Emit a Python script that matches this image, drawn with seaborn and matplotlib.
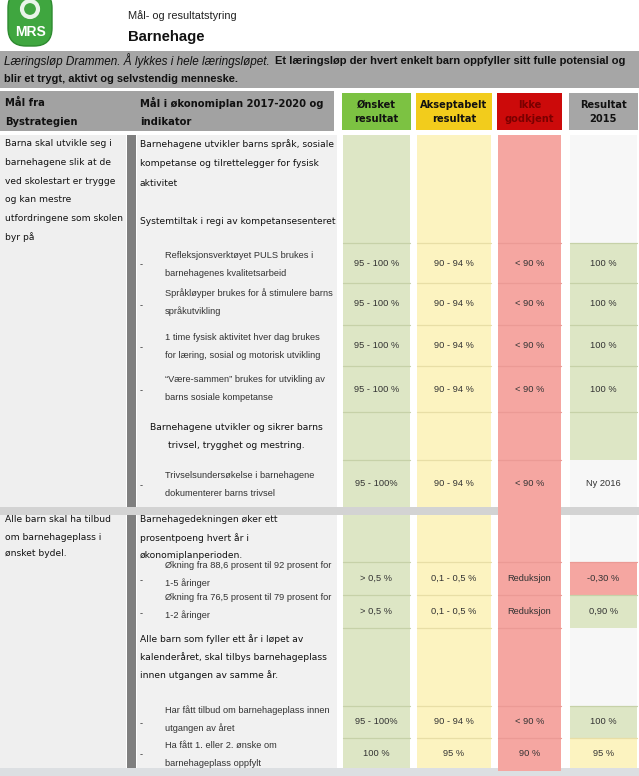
import numpy as np
import pandas as pd
import seaborn as sns
import matplotlib.pyplot as plt
from matplotlib.patches import Rectangle, FancyBboxPatch, Circle

sns.set_theme(style="white")
plt.rcParams['font.family'] = ['DejaVu Sans']

# ---- table content ----
bystrategi = [
    "Barna skal utvikle seg i\nbarnehagene slik at de\nved skolestart er trygge\nog kan mestre\nutfordringene som skolen\nbyr på",
    "Alle barn skal ha tilbud\nom barnehageplass i\nønsket bydel.",
]
indikator = [
    "Barnehagene utvikler barns språk, sosiale\nkompetanse og tilrettelegger for fysisk\naktivitet\n\nSystemtiltak i regi av kompetansesenteret",
    "Refleksjonsverktøyet PULS brukes i\nbarnehagenes kvalitetsarbeid",
    "Språkløyper brukes for å stimulere barns\nspråkutvikling",
    "1 time fysisk aktivitet hver dag brukes\nfor læring, sosial og motorisk utvikling",
    "\u201cVære-sammen\u201d brukes for utvikling av\nbarns sosiale kompetanse",
    "Barnehagene utvikler og sikrer barns\ntrivsel, trygghet og mestring.",
    "Trivselsundersøkelse i barnehagene\ndokumenterer barns trivsel",
    "Barnehagedekningen øker ett\nprosentpoeng hvert år i\nøkonomiplanperioden.",
    "Økning fra 88,6 prosent til 92 prosent for\n1-5 åringer",
    "Økning fra 76,5 prosent til 79 prosent for\n1-2 åringer",
    "Alle barn som fyller ett år i løpet av\nkalenderåret, skal tilbys barnehageplass\ninnen utgangen av samme år.",
    "Har fått tilbud om barnehageplass innen\nutgangen av året",
    "Ha fått 1. eller 2. ønske om\nbarnehageplass oppfylt",
]
row_type = ["mål", "tiltak", "tiltak", "tiltak", "tiltak", "mål", "tiltak",
            "mål", "tiltak", "tiltak", "mål", "tiltak", "tiltak"]
onsket = ["", "95 - 100 %", "95 - 100 %", "95 - 100 %", "95 - 100 %", "", "95 - 100%",
          "", "> 0,5 %", "> 0,5 %", "", "95 - 100%", "100 %"]
akseptabel = ["", "90 - 94 %", "90 - 94 %", "90 - 94 %", "90 - 94 %", "", "90 - 94 %",
              "", "0,1 - 0,5 %", "0,1 - 0,5 %", "", "90 - 94 %", "95 %"]
ikke_godkjent = ["", "< 90 %", "< 90 %", "< 90 %", "< 90 %", "", "< 90 %",
                 "", "Reduksjon", "Reduksjon", "", "< 90 %", "90 %"]
resultat_2015 = ["", "100 %", "100 %", "100 %", "100 %", "", "Ny 2016",
                 "", "-0,30 %", "0,90 %", "", "100 %", "95 %"]
resultat_status = ["", "ønsket", "ønsket", "ønsket", "ønsket", "ønsket", "",
                   "", "ikke", "ønsket", "", "ønsket", "akseptabel"]
kolonner = ["Ønsket\nresultat", "Akseptabelt\nresultat", "Ikke\ngodkjent", "Resultat\n2015"]

tabell = pd.DataFrame({"indikator": indikator, "type": row_type, "ønsket": onsket,
                       "akseptabel": akseptabel, "ikke": ikke_godkjent,
                       "resultat": resultat_2015, "status": resultat_status})

# ---- layout (pixels, y downwards) ----
W, H = 639, 776
row_top = [135, 243, 283, 325, 366, 412, 460, 515, 562, 595, 628, 706, 738]
row_bot = [243, 283, 325, 366, 412, 460, 507, 562, 595, 628, 706, 738, 768]
text_y = [144, 255, 293, 337, 380, 428, 475, 520, 565, 597, 639, 710, 745]
col_x = [(343, 410), (417, 491), (498, 561), (570, 637)]
head_col = ['#7cc242', '#f2cc1c', '#cc0a0a', '#a6a6a6']
light_col = ['#dde6c5', '#fcf3c0', '#f5a6a1', '#f7f7f7']
line_col = ['#c6d1a8', '#e8dea6', '#eb9a95', '#d8d8d8']
status_col = {"ønsket": light_col[0], "akseptabel": light_col[1], "ikke": light_col[2], "": light_col[3]}
status_line = {"ønsket": line_col[0], "akseptabel": line_col[1], "ikke": line_col[2], "": '#f7f7f7'}

fig = plt.figure(figsize=(W / 100, H / 100), dpi=100)
ax = fig.add_axes([0, 0, 1, 1])
ax.set_xlim(0, W)
ax.set_ylim(H, 0)
ax.axis('off')


def rect(x0, y0, x1, y1, color, z=1):
    ax.add_patch(Rectangle((x0, y0), x1 - x0, y1 - y0, facecolor=color, edgecolor='none', zorder=z))


def fit(x, y, s, width, **kw):
    t = ax.text(x, y, s, **kw)
    w = t.get_window_extent(fig.canvas.get_renderer()).width
    t.set_fontsize(t.get_fontsize() * width / w)
    return t


def lines(x, y, s, step, **kw):
    for i, ln in enumerate(s.split("\n")):
        ax.text(x, y + i * step, ln, va='center', **kw)


# ---- logo and title ----
ax.add_patch(FancyBboxPatch((8, -10), 44, 56, boxstyle="round,pad=0,rounding_size=18",
                            facecolor='#3fa63f', edgecolor='#2e8a30', lw=1, zorder=2))
ax.add_patch(Circle((30, 9), 8, facecolor='none', edgecolor='#e8f5e8', lw=3, zorder=3))
ax.text(30, 32, "MRS", color='white', fontsize=10, fontweight='bold', ha='center',
        va='center', family='Liberation Sans', zorder=3)
fit(128, 16, "Mål- og resultatstyring", 109, fontsize=8, va='center', family='Liberation Sans', color='#222')
fit(128, 37, "Barnehage", 77, fontsize=11, va='center', family='Liberation Sans', fontweight='bold', color='#111')

# ---- banner ----
rect(0, 51, W, 88, '#a6a6a6')
fit(4, 61, "Læringsløp Drammen. Å lykkes i hele læringsløpet.", 264, fontsize=8.5,
    va='center', style='italic', family='Liberation Sans', color='#111', zorder=3)
fit(275, 61, "Et læringsløp der hvert enkelt barn oppfyller sitt fulle potensial og", 348,
    fontsize=8.5, va='center', fontweight='bold', family='Liberation Sans', color='#111', zorder=3)
fit(4, 79, "blir et trygt, aktivt og selvstendig menneske.", 233, fontsize=8.5,
    va='center', fontweight='bold', family='Liberation Sans', color='#111', zorder=3)

# ---- header row ----
rect(0, 91, 334, 131, '#a2a2a2')
hb = dict(fontsize=7.2, fontweight='bold', color='#111', zorder=3)
lines(5, 103, "Mål fra\nBystrategien", 19, **hb)
lines(140, 103, "Mål i økonomiplan 2017-2020 og\nindikator", 19, **hb)
for (x0, x1), c, lab in zip(col_x, head_col, kolonner):
    rect(x0 - 1, 93, x1 + 1, 130, c, z=2)
    tc = '#7a0000' if c == '#cc0a0a' else '#111'
    lines((x0 + x1) / 2, 105, lab, 14.5, ha='center', fontsize=7.1, fontweight='bold', color=tc, zorder=3)

# ---- body backgrounds ----
for y0, y1 in [(135, 507), (515, 768)]:
    rect(0, y0, 126, y1, '#efefef')
    rect(127, y0, 136, y1, '#7f7f7f')
    rect(137, y0, 337, y1, '#f1f1f1')
rect(0, 507, W, 515, '#d3d3d3', z=1)
rect(0, 768, W, H, '#dcdfe2', z=1)

# colour columns
for j in range(3):
    x0, x1 = col_x[j]
    for y0, y1 in [(135, 507), (515, 768)]:
        rect(x0, y0, x1, y1, light_col[j], z=2)
    for yb in row_bot[:-1]:
        if yb != 507:
            ax.plot([x0, x1], [yb, yb], color=line_col[j], lw=0.9, zorder=3)
rect(col_x[2][0], 507, col_x[2][1], 515, light_col[2], z=2)
rect(col_x[2][0], 768, col_x[2][1], 771, light_col[2], z=2)

x0, x1 = col_x[3]
for i, r in tabell.iterrows():
    rect(x0, row_top[i], x1, row_bot[i], status_col[r['status']], z=2)
    if r['status']:
        ax.plot([x0, x1], [row_top[i], row_top[i]], color=status_line[r['status']], lw=0.9, zorder=3)

# ---- body text ----
lines(5, 144, bystrategi[0], 18.6, fontsize=6.6, color='#111', zorder=4)
lines(5, 520, bystrategi[1], 17, fontsize=6.6, color='#111', zorder=4)

small = dict(fontsize=6.7, family='Liberation Sans', color='#333', zorder=4)
for i, r in tabell.iterrows():
    if r['type'] == "mål":
        if i == 5:
            lines(236, text_y[i], r['indikator'], 17.5, ha='center', fontsize=6.7, color='#111', zorder=4)
        else:
            step = 19.5 if i == 0 else 17.8
            lines(140, text_y[i], r['indikator'], step, fontsize=6.6, color='#111', zorder=4)
    else:
        yc = (row_top[i] + row_bot[i]) / 2
        lines(165, text_y[i], r['indikator'], 18, **small)
        ax.text(140, yc + 2, "-", va='center', **small)
        for (cx0, cx1), key in zip(col_x, ["ønsket", "akseptabel", "ikke", "resultat"]):
            ax.text((cx0 + cx1) / 2, yc, r[key], ha='center', va='center', **small)

fig.savefig('out.png', dpi=100)
